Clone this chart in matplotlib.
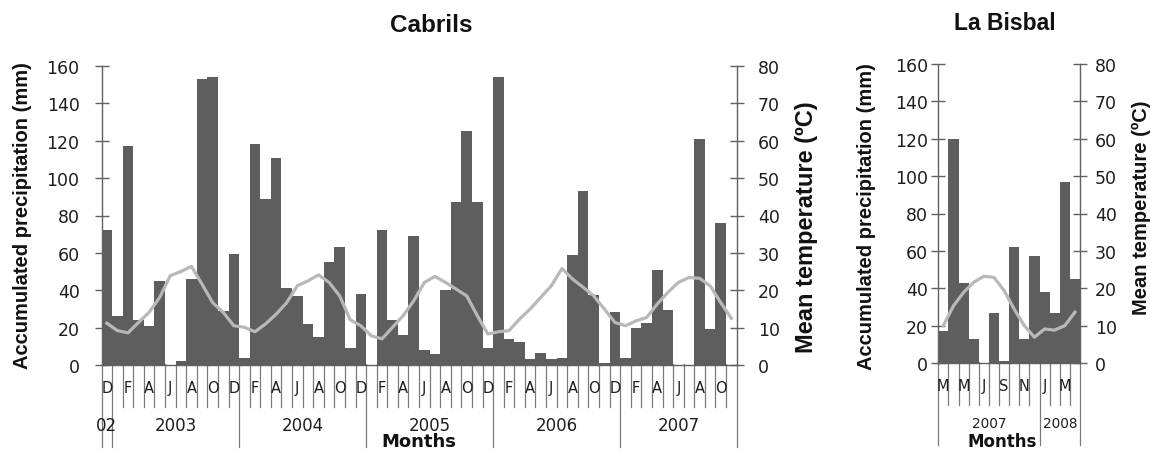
import numpy as np
import pandas as pd
import matplotlib
matplotlib.use("Agg")
import matplotlib.pyplot as plt
import matplotlib.transforms as mtransforms

# monthly series, Cabrils Dec 2002 - Nov 2007, La Bisbal Mar 2007 - Apr 2008
cabrils_months = pd.period_range("2002-12", "2007-11", freq="M")
cabrils_rain = [72, 26, 117, 24, 21, 45, 0, 2, 46, 153, 154, 29,
                59.5, 3.5, 118, 89, 111, 41, 37, 22, 15, 55, 63, 9,
                38, 0, 72, 24, 16, 69, 8, 6, 40, 87, 125, 87,
                9, 154, 14, 12.5, 3, 6.5, 3, 4, 59, 93, 37.5, 1,
                28.5, 3.7, 20, 22.5, 51, 29.5, 0, 0, 121, 19.5, 76, 0]
cabrils_temp = [11.2, 9.2, 8.6, 11.4, 14.1, 18.1, 23.9, 25.0, 26.4, 21.6, 16.7, 14.1,
                10.5, 10.1, 8.9, 11.0, 13.6, 16.7, 21.2, 22.5, 24.1, 22.1, 18.5, 12.1,
                10.5, 7.8, 7.0, 10.1, 13.2, 17.2, 22.1, 23.7, 22.1, 20.3, 18.5, 13.2,
                8.3, 8.9, 9.2, 12.3, 15.0, 18.1, 21.2, 25.8, 23.0, 20.8, 18.5, 15.0,
                11.4, 10.5, 11.8, 12.7, 16.3, 19.4, 22.1, 23.4, 23.2, 21.2, 16.7, 12.5]

bisbal_months = pd.period_range("2007-03", "2008-04", freq="M")
bisbal_rain = [17, 120, 43, 13, 0, 27, 1.2, 62, 13, 57, 38, 27, 97, 45]
bisbal_temp = [10.0, 15.3, 18.9, 21.6, 23.2, 22.9, 19.4, 14.4, 10.0, 6.9, 9.1, 8.8, 10.0, 13.6]

BAR = "#5e5e5e"
LINE = "#b8b8b8"
AXC = "#606060"
TXT = "#1e1e1e"
W, H = 1151, 452

fig = plt.figure(figsize=(W / 100, H / 100), dpi=100)


def px(x0, y0, x1, y1):
    # pixel box -> figure fraction rect
    return [x0 / W, 1 - y1 / H, (x1 - x0) / W, (y1 - y0) / H]


def panel(rect, months, rain, temp, lpad, rpad, small):
    n = len(months)
    x = np.arange(n)
    ax = fig.add_axes(rect)
    ax.bar(x, rain, width=1.0, color=BAR, linewidth=0, zorder=1)
    ax.set_xlim(-0.5, n - 0.5)
    ax.set_ylim(0, 160)
    ax.set_yticks(range(0, 161, 20))
    ax.set_xticks([])
    for s in ["top", "right"]:
        ax.spines[s].set_visible(False)
    for s in ["left", "bottom"]:
        ax.spines[s].set_color(AXC)
        ax.spines[s].set_linewidth(1.0)
    ax.tick_params(axis="y", direction="inout", length=9.5, width=1.0, color=AXC,
                   pad=lpad, labelsize=12.5, labelcolor=TXT)

    ax2 = ax.twinx()
    ax2.plot(x, temp, color=LINE, lw=2.3, zorder=3)
    ax2.set_ylim(0, 80)
    ax2.set_yticks(range(0, 81, 10))
    for s in ["top", "left", "bottom"]:
        ax2.spines[s].set_visible(False)
    ax2.spines["right"].set_color(AXC)
    ax2.spines["right"].set_linewidth(1.0)
    ax2.tick_params(axis="y", direction="inout", length=9.5, width=1.0, color=AXC,
                    pad=rpad, labelsize=12.5, labelcolor=TXT)

    # category axis drawn below the plot: month boundaries, letters, years
    tr = mtransforms.blended_transform_factory(ax.transData, ax.transAxes)
    for i in range(n + 1):
        long_line = i == 0 or i == n or months[i].month == 1
        yb = -0.275 if long_line else -0.14
        ax.plot([i - 0.5, i - 0.5], [0.005, yb], transform=tr, color="#7a7a7a",
                lw=0.9, clip_on=False, zorder=0)
    for i in range(0, n, 2):
        ax.text(i, -0.075, months[i].strftime("%b")[0], transform=tr, ha="center",
                va="center", fontsize=10.5, color=TXT)
    years = pd.Series(np.arange(n), index=[m.year for m in months])
    for yr in years.index.unique():
        idx = years.loc[[yr]].values
        lab = str(yr) if len(idx) > 1 else str(yr)[-2:]
        ax.text((idx[0] + idx[-1]) / 2, -0.2, lab, transform=tr, ha="center",
                va="center", fontsize=9.8 if small else 12, color=TXT)
    return ax


lab_font = "Liberation Sans"

axc = panel(px(101.5, 67, 736.6, 366), cabrils_months, cabrils_rain, cabrils_temp,
            lpad=11, rpad=10.5, small=False)
axb = panel(px(938.3, 65, 1080, 364), bisbal_months, bisbal_rain, bisbal_temp,
            lpad=2.8, rpad=6, small=True)

fig.text(431 / W, 1 - 25 / H, "Cabrils", ha="center", va="center",
         family=lab_font, fontweight="bold", fontsize=17.5, color="#111")
fig.text(1005 / W, 1 - 23.5 / H, "La Bisbal", ha="center", va="center",
         family=lab_font, fontweight="bold", fontsize=16.5, color="#111")

fig.text(23 / W, 1 - 215.5 / H, "Accumulated precipitation (mm)", rotation=90,
         ha="center", va="center", family=lab_font, fontweight="bold",
         fontsize=14.5, color="#111")
fig.text(807 / W, 1 - 227.5 / H, "Mean temperature (ºC)", rotation=90,
         ha="center", va="center", family=lab_font, fontweight="bold",
         fontsize=17, color="#111")
fig.text(867 / W, 1 - 216.5 / H, "Accumulated precipitation (mm)", rotation=90,
         ha="center", va="center", family=lab_font, fontweight="bold",
         fontsize=14.5, color="#111")
fig.text(1141 / W, 1 - 208 / H, "Mean temperature (ºC)", rotation=90,
         ha="center", va="center", family=lab_font, fontweight="bold",
         fontsize=14.5, color="#111")

fig.text(419 / W, 0.6 / H, "Months", ha="center", va="bottom",
         fontweight="bold", fontsize=13, color="#111")
fig.text(1002 / W, 0.6 / H, "Months", ha="center", va="bottom",
         fontweight="bold", fontsize=12, color="#111")

fig.savefig("out.png", dpi=100)
